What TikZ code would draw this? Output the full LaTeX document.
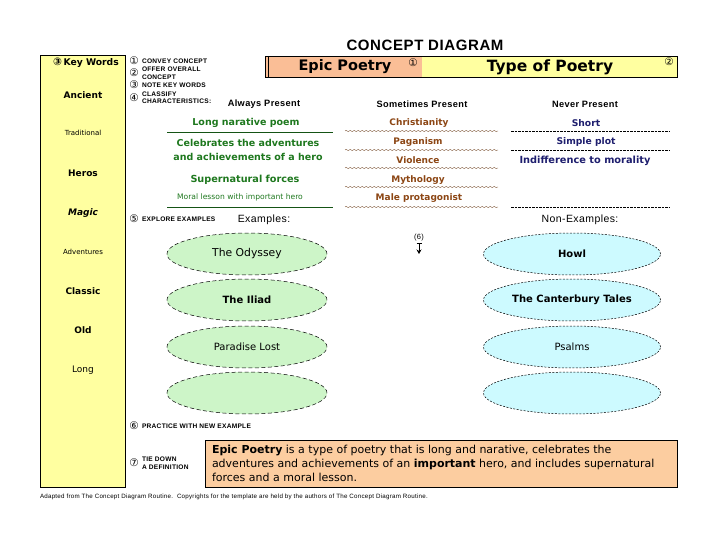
\documentclass[tikz,border=0pt]{standalone}
\usepackage{fontspec}
\setmainfont{Liberation Sans}[LetterSpace=4]
\newfontfamily\comic{DejaVu Sans}
\newfontfamily\dejavu{DejaVu Sans}
\usetikzlibrary{shapes.geometric,decorations.pathmorphing,arrows.meta}
\definecolor{kwyellow}{RGB}{255,255,160}
\definecolor{titleorange}{RGB}{250,190,150}
\definecolor{defpeach}{RGB}{252,205,160}
\definecolor{alwaysgreen}{RGB}{30,120,30}
\definecolor{somebrown}{RGB}{140,70,20}
\definecolor{nevernavy}{RGB}{30,30,110}
\definecolor{exgreen}{RGB}{205,245,200}
\definecolor{nonblue}{RGB}{205,250,255}
\newcommand{\circn}[1]{{\dejavu\fontsize{10.5}{10.5}\selectfont #1}}
\tikzset{
  every node/.style={inner sep=0pt, outer sep=0pt},
  stepnum/.style={font=\dejavu\fontsize{10.5}{10.5}\selectfont},
  steplbl/.style={font=\fontsize{6.6}{7}\selectfont\bfseries, anchor=west},
  kw/.style={font=\comic\fontsize{9}{10}\selectfont\bfseries},
  kwlight/.style={font=\comic\fontsize{7}{9}\selectfont},
  colhead/.style={font=\fontsize{9.2}{10}\selectfont\bfseries},
  alw/.style={font=\comic\fontsize{9.5}{13.5}\selectfont\bfseries, text=alwaysgreen, align=center},
  some/.style={font=\comic\fontsize{9}{11}\selectfont\bfseries, text=somebrown},
  nev/.style={font=\comic\fontsize{9.2}{11}\selectfont\bfseries, text=nevernavy},
  alwline/.style={alwaysgreen!70!black, line width=0.6pt},
  waveline/.style={somebrown!55!gray, line width=0.4pt, decorate, decoration={snake, amplitude=0.7pt, segment length=4pt}},
  nevline/.style={black, line width=0.5pt, dash pattern=on 2.5pt off 1pt},
  exell/.style={ellipse, draw, line width=0.5pt, dash pattern=on 4pt off 2.5pt, fill=exgreen, minimum width=160pt, minimum height=42pt, font=\comic\fontsize{10}{12}\selectfont},
  nonell/.style={ellipse, draw, line width=0.5pt, dash pattern=on 2pt off 1.5pt, fill=nonblue, minimum width=177pt, minimum height=42pt, font=\comic\fontsize{10}{12}\selectfont},
}
\begin{document}
\begin{tikzpicture}[x=1pt,y=-1pt]
\useasboundingbox (0,0) rectangle (720,540);
\fill[white] (0,0) rectangle (720,540);

% title
\node[font=\fontsize{15}{17}\selectfont\bfseries] (title) at (425,45) {CONCEPT DIAGRAM};
\fill[titleorange] (266,56) rectangle (422,77);
\fill[kwyellow] (422,56) rectangle (677,77);
\node[draw, line width=0.6pt, minimum width=412pt, minimum height=21pt, anchor=north west] (titlebox) at (265,56) {};
\draw[line width=0.6pt] (268,56) -- (268,77);
\node[font=\comic\fontsize{14.5}{16}\selectfont\bfseries] (concept) at (345,67) {Epic Poetry};
\node[stepnum] (n1) at (413,63) {①};
\node[font=\comic\fontsize{15.5}{17}\selectfont\bfseries] (supercon) at (550,67) {Type of Poetry};
\node[stepnum] (n2) at (669,62) {②};

% key words column
\node[draw, line width=0.7pt, fill=kwyellow, minimum width=85pt, minimum height=432pt, anchor=north west] (kwbox) at (40,55) {};
\node[kw, font=\comic\fontsize{9.2}{10}\selectfont\bfseries] (kwhead) at (86,63) {\circn{③}\,Key Words};
\node[kw] (kw1) at (83,95) {Ancient};
\node[kwlight] (kw2) at (83,133) {Traditional};
\node[kw] (kw3) at (83,173) {Heros};
\node[kw, font=\comic\fontsize{9}{10}\selectfont\bfseries\itshape] (kw4) at (83,213) {Magic};
\node[kwlight] (kw5) at (83,252) {Adventures};
\node[kw] (kw6) at (83,291) {Classic};
\node[kw] (kw7) at (83,330) {Old};
\node[kw, font=\comic\fontsize{9}{10}\selectfont] (kw8) at (83,370) {Long};

% step labels
\node[stepnum] (s1n) at (134,61) {①};
\node[steplbl] (s1) at (142,61) {CONVEY CONCEPT};
\node[stepnum] (s2n) at (134,73) {②};
\node[steplbl] (s2a) at (142,69) {OFFER OVERALL};
\node[steplbl] (s2b) at (142,77) {CONCEPT};
\node[stepnum] (s3n) at (134,85) {③};
\node[steplbl] (s3) at (142,85) {NOTE KEY WORDS};
\node[stepnum] (s4n) at (134,98) {④};
\node[steplbl] (s4a) at (142,94) {CLASSIFY};
\node[steplbl] (s4b) at (142,101.5) {CHARACTERISTICS:};
\node[stepnum] (s5n) at (134,219) {⑤};
\node[steplbl] (s5) at (142,219) {EXPLORE EXAMPLES};
\node[stepnum] (s6n) at (134,426) {⑥};
\node[steplbl] (s6) at (142,426) {PRACTICE WITH NEW EXAMPLE};
\node[stepnum] (s7n) at (134,463) {⑦};
\node[steplbl] (s7a) at (142,459) {TIE DOWN};
\node[steplbl] (s7b) at (142,467) {A DEFINITION};

% column headers
\node[colhead] (hA) at (264,104) {Always Present};
\node[colhead] (hS) at (422,104) {Sometimes Present};
\node[colhead] (hN) at (585,104) {Never Present};

% always present
\node[alw] (a1) at (246,123) {Long narative poem};
\draw[alwline] (167,132) -- (333,132);
\node[alw] (a2) at (248,150) {Celebrates the adventures\\and achievements of a hero};
\node[alw, font=\comic\fontsize{9.7}{12}\selectfont\bfseries] (a3) at (245,180) {Supernatural forces};
\node[alw, font=\comic\fontsize{7.6}{9}\selectfont] (a4) at (240,197) {Moral lesson with important hero};
\draw[alwline] (167,207) -- (333,207);

% sometimes present
\node[some] (b1) at (419,123) {Christianity};
\draw[waveline] (345,131) -- (498,131);
\node[some] (b2) at (418,142) {Paganism};
\draw[waveline] (345,150) -- (498,150);
\node[some] (b3) at (418,160) {Violence};
\draw[waveline] (345,168) -- (498,168);
\node[some] (b4) at (418,180) {Mythology};
\draw[waveline] (345,187) -- (498,187);
\node[some] (b5) at (419,198) {Male protagonist};
\draw[waveline] (345,207) -- (498,207);

% never present
\node[nev] (c1) at (586,123) {Short};
\draw[nevline] (511,131) -- (670,131);
\node[nev] (c2) at (586,142) {Simple plot};
\draw[nevline] (511,150) -- (670,150);
\node[nev, font=\comic\fontsize{9.8}{11}\selectfont\bfseries] (c3) at (585,161) {Indifference to morality};
\draw[nevline] (511,207) -- (670,207);

% examples
\node[font=\fontsize{10.5}{12}\selectfont] (exh) at (264,220) {Examples:};
\node[font=\fontsize{10.5}{12}\selectfont] (nonh) at (580,220) {Non-Examples:};
\node[exell, font=\comic\fontsize{10.8}{12}\selectfont] (e1) at (247,254) {The Odyssey};
\node[exell, font=\comic\fontsize{10}{12}\selectfont\bfseries] (e2) at (247,300) {The Iliad};
\node[exell] (e3) at (247,347) {Paradise Lost};
\node[exell] (e4) at (247,393) {};
\node[nonell, font=\comic\fontsize{10}{12}\selectfont\bfseries] (f1) at (572,254) {Howl};
\node[nonell, font=\comic\fontsize{10}{12}\selectfont\bfseries] (f2) at (572,300) {The Canterbury Tales};
\node[nonell] (f3) at (572,347) {Psalms};
\node[nonell] (f4) at (572,393) {};

% step 6 marker
\node[font=\fontsize{7.5}{8}\selectfont] (six) at (419,238) {(6)};
\coordinate (sixend) at (419,254);
\draw[line width=0.8pt, -{Stealth[length=4.5pt,width=5pt]}] ([yshift=-2pt]six.south) -- (sixend);
\draw[line width=0.6pt] ([xshift=-2.5pt,yshift=-2pt]six.south) -- ([xshift=2.5pt,yshift=-2pt]six.south);

% definition
\node[draw, line width=0.7pt, fill=defpeach, minimum width=472pt, minimum height=47pt, anchor=north west] (defbox) at (205,440) {};
\node[font=\comic\fontsize{11}{13.8}\selectfont, anchor=west, align=left] (deftext) at (212,463.5) {\textbf{Epic Poetry} is a type of poetry that is long and narative, celebrates the\\adventures and achievements of an \textbf{important} hero, and includes supernatural\\forces and a moral lesson.};

% footer
\node[font=\fontsize{6.2}{7}\selectfont, anchor=west] (footer) at (40,497) {Adapted from The Concept Diagram Routine.\ \ Copyrights for the template are held by the authors of The Concept Diagram Routine.};
\end{tikzpicture}
\end{document}
